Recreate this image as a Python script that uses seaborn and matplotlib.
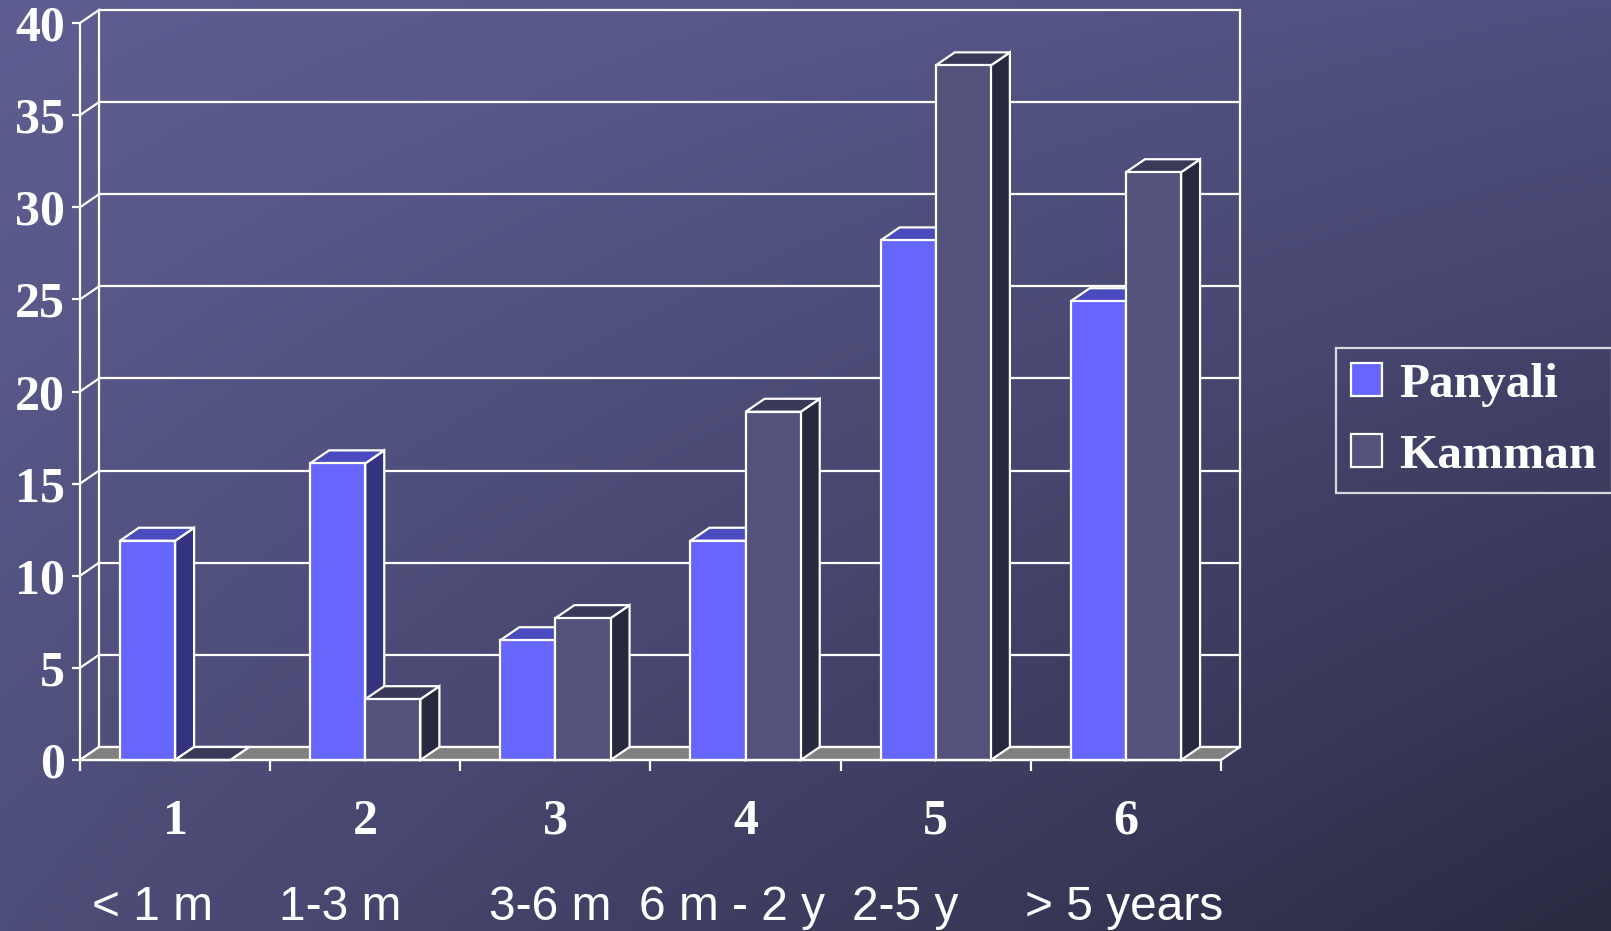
import numpy as np
import pandas as pd
import matplotlib
matplotlib.use("Agg")
import matplotlib.pyplot as plt
from matplotlib.patches import Polygon, Patch
import seaborn as sns

# chart data
periods = ['1', '2', '3', '4', '5', '6']
period_labels = ['< 1 m', '1-3 m', '3-6 m', '6 m - 2 y', '2-5 y', '> 5 years']
panyali = [11.9, 16.1, 6.5, 11.9, 28.2, 24.9]
kamman = [0.0, 3.3, 7.7, 18.9, 37.7, 31.9]
sites = ['Panyali', 'Kamman']
y_ticks = [0, 5, 10, 15, 20, 25, 30, 35, 40]

# label nudges (in category units) to mimic the spacing of the original slide
label_shift = [-0.12, -0.13, -0.03, -0.07, -0.16, -0.01]

front_col = {'Panyali': '#6666ff', 'Kamman': '#52527a'}
top_col = {'Panyali': '#4b4bc0', 'Kamman': '#3a3a58'}
side_col = {'Panyali': '#33337f', 'Kamman': '#28283e'}

df = pd.DataFrame({
    'period': periods * 2,
    'site': ['Panyali'] * len(periods) + ['Kamman'] * len(periods),
    'value': panyali + kamman,
})

sns.set_style("white")
plt.rcParams['font.family'] = ['Liberation Serif', 'DejaVu Serif']

W, H = 1611, 931
fig = plt.figure(figsize=(W / 100, H / 100), dpi=100)

# background gradient (slide template)
bg = fig.add_axes([0, 0, 1, 1], zorder=-10)
gx = np.linspace(0, 1, 400)[None, :]
gy = np.linspace(0, 1, 240)[:, None]
tl = np.array([94, 94, 146]) / 255
tr = np.array([80, 80, 128]) / 255
bl = np.array([78, 78, 122]) / 255
br = np.array([42, 42, 66]) / 255
img = ((1 - gx)[..., None] * (1 - gy)[..., None] * tl + gx[..., None] * (1 - gy)[..., None] * tr
       + (1 - gx)[..., None] * gy[..., None] * bl + gx[..., None] * gy[..., None] * br)
bg.imshow(img, aspect='auto', extent=[0, 1, 0, 1], origin='upper')
bg.axis('off')

# main axes = front plane of the 3D box
left, right, bottom, top = 80, 1221, 760, 23
ax = fig.add_axes([left / W, 1 - bottom / H, (right - left) / W, (bottom - top) / H])
ax.set_facecolor('none')

sns.barplot(data=df, x='period', y='value', hue='site', hue_order=sites,
            palette=[front_col[s] for s in sites], width=0.58, saturation=1,
            edgecolor='white', linewidth=1.6, legend=False, ax=ax, zorder=5)
bars = sorted(ax.patches, key=lambda p: p.get_x())

ax.set_xlim(-0.5, len(periods) - 0.5)
ax.set_ylim(0, 40)

# depth offset of the 3D effect, pixels -> data units
dx_px, dy_px = 19, 13
dxd = dx_px / ((right - left) / len(periods))
dyd = dy_px / ((bottom - top) / 40)
x0, x1 = -0.5, len(periods) - 0.5
lc = dict(color='white', lw=1.6, clip_on=False, solid_capstyle='projecting')

# back wall gridlines + side wall diagonals
for v in y_ticks:
    ax.plot([x0 + dxd, x1 + dxd], [v + dyd, v + dyd], zorder=1, **lc)
    ax.plot([x0, x0 + dxd], [v, v + dyd], zorder=1, **lc)
ax.plot([x0 + dxd, x0 + dxd], [dyd, 40 + dyd], zorder=1, **lc)
ax.plot([x1 + dxd, x1 + dxd], [dyd, 40 + dyd], zorder=1, **lc)

# floor
ax.add_patch(Polygon([(x0, 0), (x1, 0), (x1 + dxd, dyd), (x0 + dxd, dyd)],
                     closed=True, facecolor='#808080', edgecolor='white', lw=1.6,
                     zorder=2, clip_on=False))

# side and top faces of each bar, drawn left to right
n = len(periods)
for i, b in enumerate(bars):
    site = 'Panyali' if b.get_facecolor()[2] > 0.9 and b.get_facecolor()[0] > 0.35 else 'Kamman'
    bx, bw, bh = b.get_x(), b.get_width(), b.get_height()
    z = 3 + i * 0.1
    side = Polygon([(bx + bw, 0), (bx + bw + dxd, dyd), (bx + bw + dxd, bh + dyd), (bx + bw, bh)],
                   closed=True, facecolor=side_col[site], edgecolor='white', lw=1.6,
                   zorder=z, clip_on=False)
    topf = Polygon([(bx, bh), (bx + bw, bh), (bx + bw + dxd, bh + dyd), (bx + dxd, bh + dyd)],
                   closed=True, facecolor=top_col[site], edgecolor='white', lw=1.6,
                   zorder=z, clip_on=False)
    ax.add_patch(side)
    ax.add_patch(topf)
    b.set_zorder(z + 0.05)
    b.set_clip_on(False)

# axes lines
for s in ['top', 'right']:
    ax.spines[s].set_visible(False)
for s in ['left', 'bottom']:
    ax.spines[s].set_color('white')
    ax.spines[s].set_linewidth(1.6)
    ax.spines[s].set_zorder(6)

ax.set_yticks(y_ticks)
ax.set_yticklabels([str(v) for v in y_ticks], fontsize=36, fontweight='bold', color='white')
ax.tick_params(axis='y', colors='white', length=6, width=1.6, pad=5, left=True)

ax.set_xticks(np.arange(-0.5, n, 1.0))
ax.set_xticklabels([])
ax.tick_params(axis='x', which='major', colors='white', length=8, width=1.6, bottom=True)
ax.set_xticks(np.arange(n), minor=True)
ax.set_xticklabels(periods, minor=True, fontsize=36, fontweight='bold', color='white')
ax.tick_params(axis='x', which='minor', length=0, pad=28)
ax.set_xlabel('')
ax.set_ylabel('')

for i, lab in enumerate(period_labels):
    ax.text(i + label_shift[i], -0.2, lab, transform=ax.get_xaxis_transform(),
            ha='center', va='center', fontsize=34.5, color='white',
            family=['Liberation Sans', 'DejaVu Sans'])

handles = [Patch(facecolor=front_col[s], edgecolor='white', lw=1.6) for s in sites]
leg = fig.legend(handles, sites, loc='upper left', bbox_to_anchor=(1336 / W, 1 - 348 / H),
                 prop={'family': 'Liberation Serif', 'weight': 'bold', 'size': 35.5},
                 handlelength=0.64, handleheight=0.64, handletextpad=0.35,
                 labelspacing=0.55, borderpad=0.3, borderaxespad=0, fancybox=False,
                 frameon=True)
for t in leg.get_texts():
    t.set_color('white')
leg.get_frame().set_facecolor('none')
leg.get_frame().set_edgecolor('white')
leg.get_frame().set_linewidth(1.6)

fig.savefig('out.png', dpi=100)
